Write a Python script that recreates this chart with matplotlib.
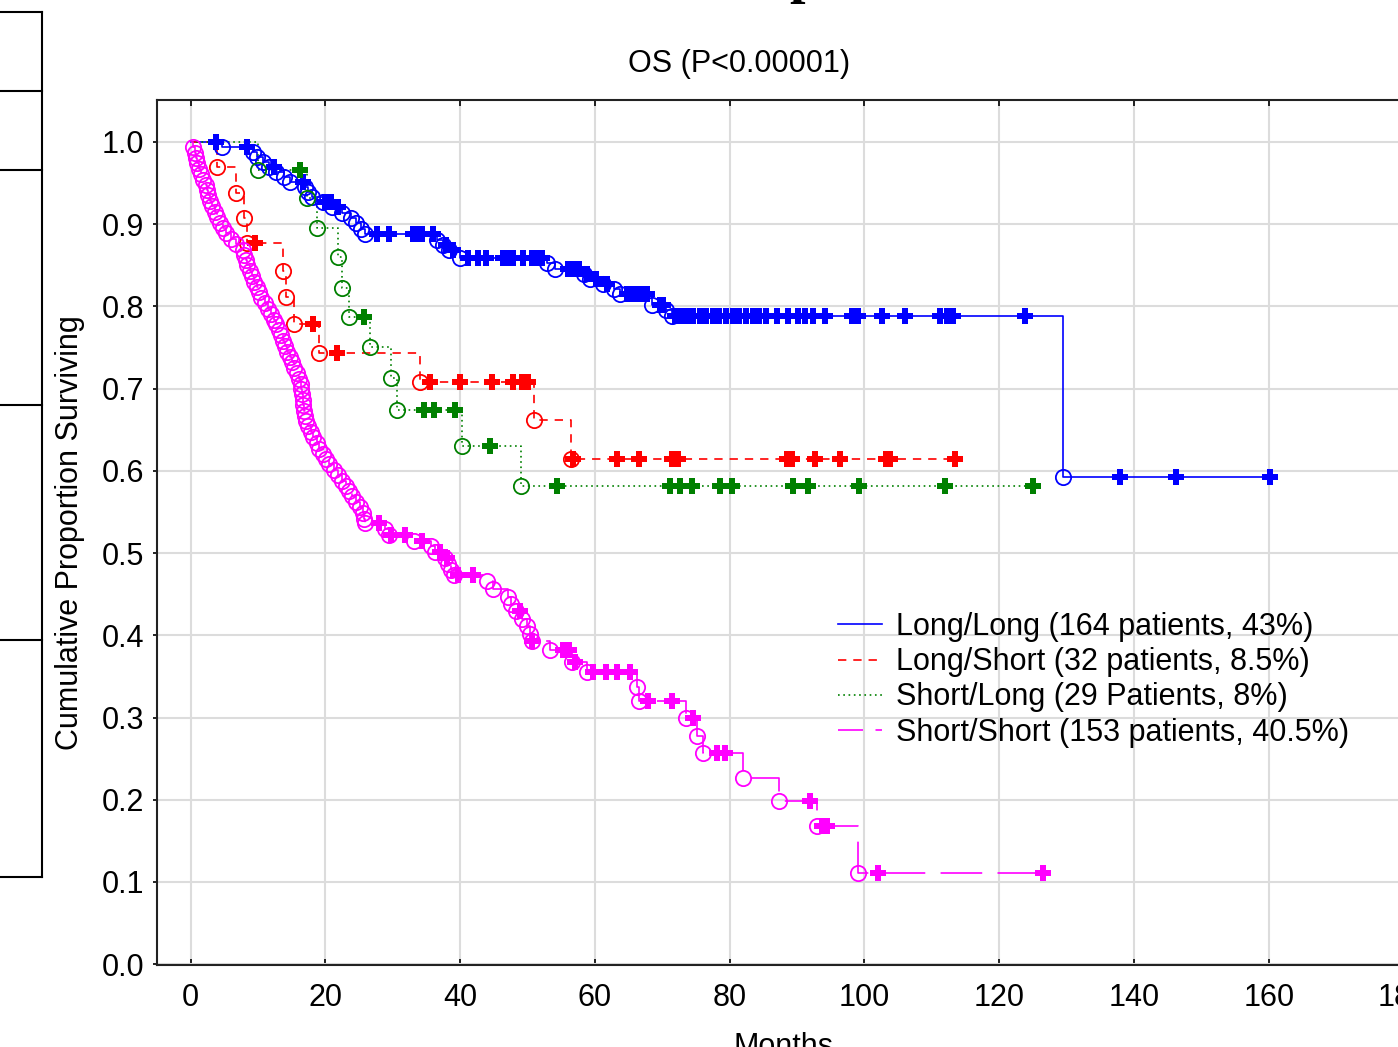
import numpy as np
import matplotlib
matplotlib.use("Agg")
import matplotlib.pyplot as plt
from matplotlib.lines import Line2D

plt.rcParams['font.family'] = ['Liberation Sans', 'DejaVu Sans']
plt.rcParams['lines.scale_dashes'] = False

# Long/Long : event times (months) and survival after each event, censored times
ll_event_t = [4.6, 9.2, 9.9, 10.8, 11.6, 12.7, 13.8, 14.8, 16.9, 17.4, 18.0, 19.6, 21.0,
              22.4, 23.8, 24.6, 25.3, 25.8, 36.6, 37.4, 38.4, 40.0, 52.9, 54.0, 58.3,
              59.2, 61.2, 62.8, 63.7, 68.4, 70.6, 71.4, 129.4]
ll_event_s = [0.994, 0.988, 0.982, 0.976, 0.970, 0.963, 0.957, 0.951, 0.945, 0.939, 0.933,
              0.927, 0.921, 0.914, 0.908, 0.901, 0.894, 0.888, 0.881, 0.875, 0.868, 0.859,
              0.853, 0.846, 0.839, 0.833, 0.827, 0.821, 0.815, 0.802, 0.795, 0.788, 0.592]
ll_censor_t = [3.8, 8.3, 12.4, 16.6, 19.9, 20.8, 21.9, 27.6, 29.5, 33.0, 33.6, 34.3, 35.9,
               37.9, 38.9, 41.1, 42.6, 43.9, 46.3, 46.8, 47.4, 47.8, 49.3, 50.6, 51.1, 51.6,
               52.2, 56.0, 56.7, 57.7, 58.8, 60.1, 61.8, 64.7, 65.4, 66.2, 67.0, 67.7, 69.6,
               70.1, 71.9, 72.8, 73.6, 74.5, 75.6, 76.5, 77.5, 78.4, 79.4, 80.5, 81.4, 82.4,
               83.4, 84.4, 85.4, 87.0, 88.6, 90.2, 91.2, 92.3, 94.1, 98.1, 99.0, 102.6, 106.0,
               111.2, 112.2, 113.1, 123.8, 137.9, 146.2, 160.2]

# Long/Short
ls_event_t = [3.9, 6.7, 7.9, 8.3, 13.7, 14.1, 15.3, 19.0, 34.0, 51.0, 56.5]
ls_event_s = [0.969, 0.938, 0.908, 0.877, 0.843, 0.811, 0.779, 0.743, 0.708, 0.662, 0.614]
ls_censor_t = [9.6, 18.1, 21.7, 35.5, 40.0, 44.7, 47.8, 49.2, 50.0, 56.8, 63.2, 66.6, 71.4,
               72.3, 88.5, 89.3, 92.7, 96.3, 103.2, 103.8, 113.4]

# Short/Long
sl_event_t = [10.0, 17.3, 18.7, 21.8, 22.4, 23.5, 26.6, 29.8, 30.6, 40.2, 49.0]
sl_event_s = [0.966, 0.932, 0.895, 0.860, 0.822, 0.787, 0.750, 0.713, 0.674, 0.630, 0.581]
sl_censor_t = [16.2, 25.7, 34.7, 36.1, 39.2, 44.4, 54.3, 71.1, 72.6, 74.4, 78.5, 80.4, 89.4,
               91.6, 99.2, 111.9, 125.0]

# Short/Short
ss_event_t = [0.4, 0.6, 0.8, 1.0, 1.3, 1.6, 1.9, 2.2, 2.4, 2.6, 2.8, 3.2, 3.6, 3.9, 4.3,
              4.8, 5.3, 6.0, 6.7, 7.7, 7.9, 8.2, 8.4, 8.8, 9.1, 9.4, 9.8, 10.2, 10.5, 11.0,
              11.4, 11.9, 12.3, 12.7, 13.1, 13.4, 13.7, 14.0, 14.3, 14.7, 15.1, 15.4, 15.8,
              16.1, 16.3, 16.4, 16.5, 16.6, 16.7, 16.8, 16.9, 17.1, 17.4, 17.8, 18.2, 18.7,
              19.1, 19.6, 20.1, 20.6, 21.2, 21.8, 22.5, 23.0, 23.5, 24.0, 24.5, 25.2, 25.5,
              25.7, 25.9, 28.9, 29.4, 33.2, 35.7, 36.3, 37.7, 38.2, 38.7, 39.1, 44.0, 44.8,
              47.1, 47.6, 48.3, 49.2, 49.9, 50.3, 50.6, 53.3, 56.6, 58.8, 66.3, 66.6, 73.5,
              75.2, 76.0, 82.0, 87.3, 93.0, 99.0]
ss_event_s = [0.994, 0.987, 0.980, 0.974, 0.967, 0.961, 0.954, 0.948, 0.941, 0.935, 0.928,
              0.922, 0.915, 0.909, 0.902, 0.895, 0.889, 0.882, 0.876, 0.869, 0.863, 0.856,
              0.850, 0.843, 0.837, 0.830, 0.824, 0.817, 0.810, 0.804, 0.797, 0.791, 0.784,
              0.778, 0.771, 0.765, 0.758, 0.752, 0.745, 0.739, 0.732, 0.725, 0.719, 0.712,
              0.706, 0.699, 0.693, 0.686, 0.680, 0.673, 0.667, 0.660, 0.654, 0.647, 0.641,
              0.634, 0.627, 0.621, 0.614, 0.608, 0.601, 0.595, 0.588, 0.582, 0.575, 0.569,
              0.562, 0.556, 0.549, 0.542, 0.536, 0.529, 0.522, 0.515, 0.508, 0.501, 0.494,
              0.487, 0.480, 0.473, 0.466, 0.456, 0.447, 0.438, 0.429, 0.420, 0.411, 0.402,
              0.393, 0.382, 0.368, 0.355, 0.337, 0.320, 0.299, 0.278, 0.257, 0.227, 0.198,
              0.168, 0.111]
ss_censor_t = [28.0, 29.8, 31.8, 34.4, 37.0, 38.0, 39.6, 41.9, 48.8, 50.6, 55.2, 56.2, 57.0,
               59.7, 61.7, 63.2, 65.2, 67.8, 71.4, 74.5, 78.1, 79.3, 91.9, 93.7, 94.4, 102.0,
               126.5]

labels = ["Long/Long (164 patients, 43%)", "Long/Short (32 patients, 8.5%)",
          "Short/Long (29 Patients, 8%)", "Short/Short (153 patients, 40.5%)"]
colors = ["#0000ff", "#ff0000", "#008000", "#ff00ff"]
styles = ["-", (0, (6.0, 5.0)), (0, (1.2, 2.6)), (0, (30.0, 11.0))]
legend_styles = ["-", (0, (6.0, 5.0)), (0, (1.2, 2.6)), (0, (18.0, 9.0))]

groups = [(ll_event_t, ll_event_s, ll_censor_t),
          (ls_event_t, ls_event_s, ls_censor_t),
          (sl_event_t, sl_event_s, sl_censor_t),
          (ss_event_t, ss_event_s, ss_censor_t)]

W, H = 1398, 1047
fig = plt.figure(figsize=(W / 100, H / 100), dpi=100)
ax = fig.add_axes([157 / W, (H - 965) / H, 1260 / W, 865 / H])

for (et, es, ct), col, ls in zip(groups, colors, styles):
    et = np.array(et)
    es = np.array(es)
    ct = np.array(ct)
    end = max(et.max(), ct.max())
    xs = np.concatenate([[0], et, [end]])
    ys = np.concatenate([[1.0], es, [es[-1]]])
    ax.step(xs, ys, where='post', color=col, lw=1.2, linestyle=ls, zorder=3)
    ax.plot(et, es, 'o', ms=11, mfc='none', mec=col, mew=1.3, zorder=4)
    levels = np.concatenate([[1.0], es])[np.searchsorted(et, ct, side='right')]
    ax.plot(ct, levels, 'P', ms=12, color=col, mew=0, zorder=4)

ax.set_xlim(-5, 182)
ax.set_ylim(-0.001, 1.051)
ax.set_xticks(np.arange(0, 181, 20))
ax.set_yticks(np.arange(0, 1.01, 0.1))
ax.set_yticklabels([f"{v:.1f}" for v in np.arange(0, 1.01, 0.1)])
ax.grid(True, color='#dcdcdc', lw=1.5)
ax.set_axisbelow(True)
for side in ['left', 'bottom', 'top']:
    ax.spines[side].set_linewidth(1.5)
    ax.spines[side].set_color('#222222')
ax.spines['right'].set_visible(False)
ax.tick_params(axis='y', direction='out', length=3, width=1.2, labelsize=22, pad=6)
ax.tick_params(axis='x', direction='in', length=4, width=1.2, labelsize=22, pad=13,
               top=True)

handles = [Line2D([], [], color=c, lw=1.2, linestyle=s) for c, s in zip(colors, legend_styles)]
fig.legend(handles, labels, loc='upper left', bbox_to_anchor=(838 / W, 1 - 612 / H),
           frameon=False, fontsize=22, handlelength=1.45, handletextpad=0.45,
           labelspacing=0.17, borderpad=0, borderaxespad=0)

fig.text(739 / W, 1 - 64 / H, "OS (P<0.00001)", ha='center', va='center', fontsize=22)
fig.text(70 / W, 1 - 533 / H, "Cumulative Proportion Surviving", rotation=90,
         ha='center', va='center', fontsize=22)
fig.text(783 / W, 1 - 1055 / H, "Months", ha='center', va='baseline', fontsize=22)
fig.text(789 / W, 1 + 8 / H, "p", ha='left', va='baseline', fontsize=40,
         family='Liberation Serif', weight='bold')

# frame of the neighbouring panel on the left
for y in [12, 91, 170, 405, 640, 877]:
    fig.add_artist(Line2D([0, 42 / W], [1 - y / H, 1 - y / H], color='black', lw=1.5))
fig.add_artist(Line2D([42 / W, 42 / W], [1 - 12 / H, 1 - 877 / H], color='black', lw=1.5))

fig.savefig("out.png", dpi=100)
